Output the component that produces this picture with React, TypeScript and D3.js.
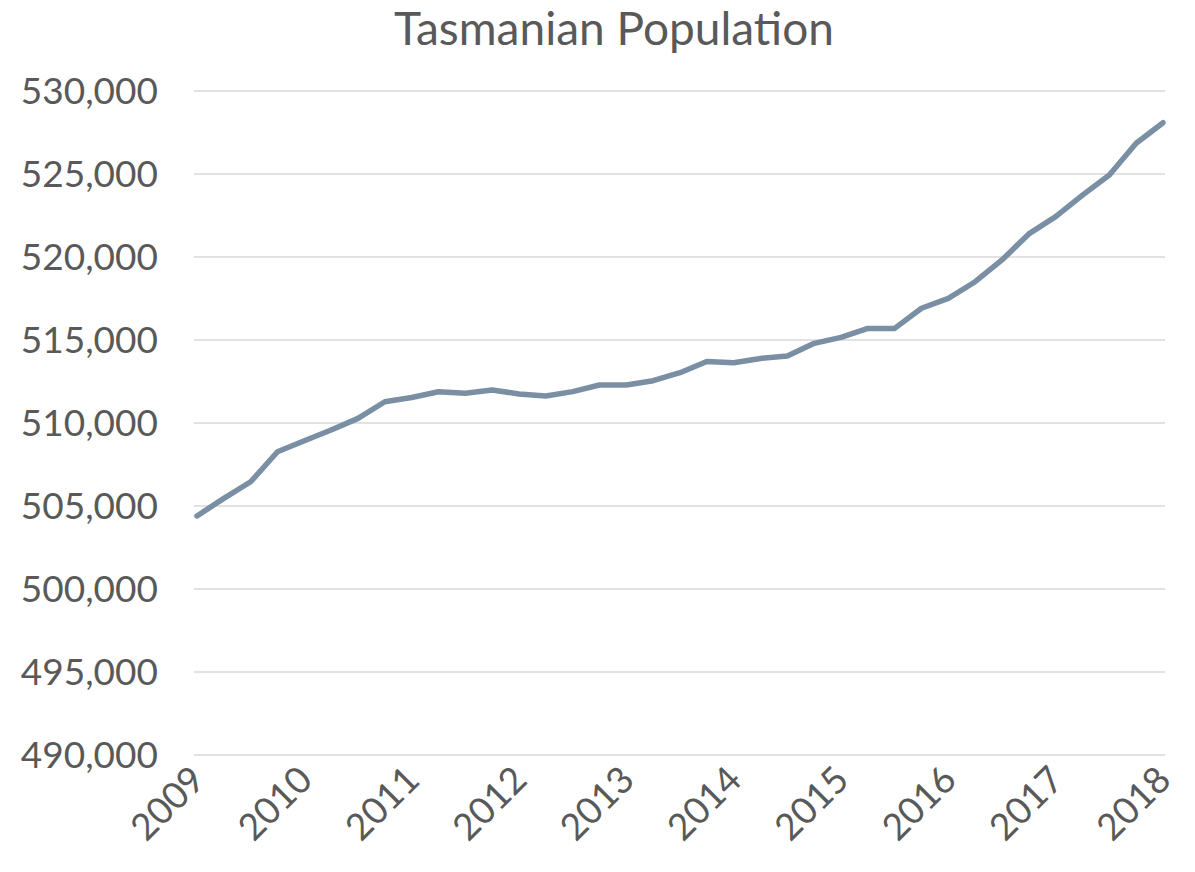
import React from "react";
import * as d3 from "d3";

const title = "Tasmanian Population";
const yearLabels = ["2009", "2010", "2011", "2012", "2013", "2014", "2015", "2016", "2017", "2018"];
const yTicks = [490000, 495000, 500000, 505000, 510000, 515000, 520000, 525000, 530000];
// quarterly estimates, 2009 Q1 .. 2018 Q1
const population = [
  504400, 505460, 506460, 508270, 508930, 509580, 510280, 511280, 511540, 511880,
  511790, 511990, 511750, 511630, 511890, 512290, 512290, 512550, 513030, 513700,
  513630, 513890, 514040, 514800, 515160, 515700, 515700, 516910, 517510, 518510,
  519820, 521390, 522430, 523730, 524940, 526850, 528090,
];

export default function App() {
  const W = 1195;
  const H = 872;
  const left = 197;
  const right = 1163;
  const top = 91;
  const bottom = 755;

  const x = d3.scaleLinear().domain([0, population.length - 1]).range([left, right]);
  const xYear = d3.scaleLinear().domain([0, yearLabels.length - 1]).range([left, right]);
  const y = d3.scaleLinear().domain([490000, 530000]).range([bottom, top]);
  const fmt = d3.format(",");
  const line = d3
    .line<number>()
    .x((_, i) => x(i))
    .y((d) => y(d));

  const font = "Lato, 'Gill Sans', sans-serif";
  const textColor = "#595959";

  return (
    <svg
      width={W}
      height={H}
      style={{ position: "absolute", left: 0, top: 0, background: "#fff" }}
      fontFamily={font}
    >
      <text x={614} y={45} textAnchor="middle" fontSize={46} fill={textColor}>
        {title}
      </text>
      {yTicks.map((t) => (
        <g key={t}>
          <line x1={194} x2={1165} y1={y(t)} y2={y(t)} stroke="#d9d9d9" strokeWidth={1.5} />
          <text x={158} y={y(t)} dy="0.36em" textAnchor="end" fontSize={37} fill={textColor}>
            {fmt(t)}
          </text>
        </g>
      ))}
      {yearLabels.map((lab, i) => (
        <text
          key={lab}
          transform={`translate(${xYear(i) + 10},${782}) rotate(-45)`}
          textAnchor="end"
          fontSize={37}
          fill={textColor}
        >
          {lab}
        </text>
      ))}
      <path
        d={line(population) || ""}
        fill="none"
        stroke="#7a8fa3"
        strokeWidth={5.5}
        strokeLinejoin="round"
        strokeLinecap="round"
      />
    </svg>
  );
}
